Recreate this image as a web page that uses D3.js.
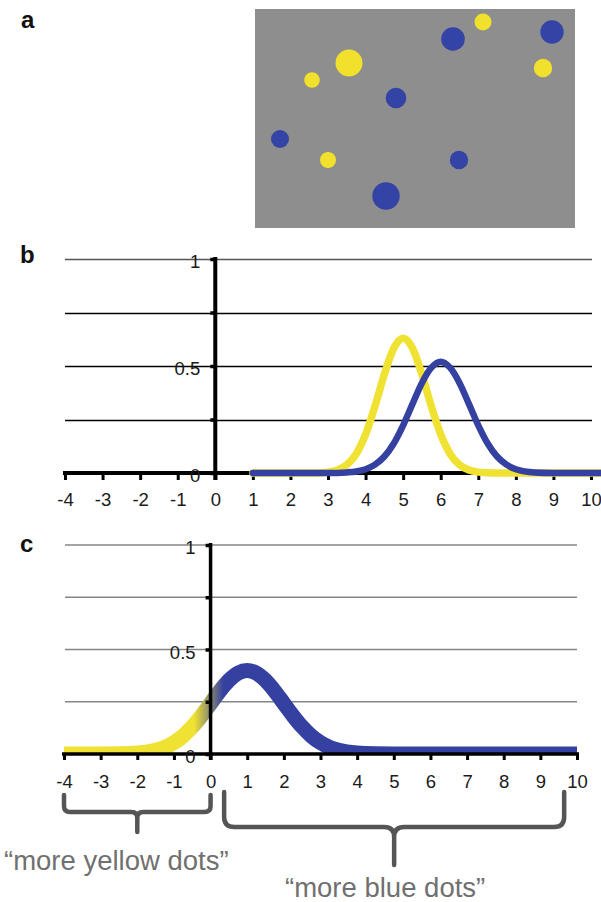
<!DOCTYPE html>
<html><head><meta charset="utf-8">
<script src="https://cdn.jsdelivr.net/npm/d3@7"></script>
<style>body{margin:0;background:#fff}svg{display:block}</style>
</head><body>
<script>
// ---------- Data ----------
// Panel a: stimulus dots (stimulus units, 320 x 219)
const dotX = [94, 57, 198, 228, 297, 288, 141, 25, 73, 204, 131];
const dotY = [54, 71, 30, 13, 23, 59, 89, 130, 151, 151, 187];
const dotR = [13.5, 7.8, 11.8, 8.5, 11.7, 9.2, 10.3, 9, 8, 9.2, 13.7];
const dotColor = ["yellow","yellow","blue","yellow","blue","yellow","blue","blue","yellow","blue","blue"];

// Axes ticks
const xTicks = [-4,-3,-2,-1,0,1,2,3,4,5,6,7,8,9,10];
const yTicks = [0, 0.25, 0.5, 0.75, 1];
const yTickLabels = ["0", "", "0.5", "", "1"];

// Panel b: yellow and blue distributions
const bX      = [1, 2, 2.5, 3, 3.25, 3.5, 3.75, 4, 4.25, 4.5, 4.75, 5, 5.25, 5.5, 5.75, 6, 6.25, 6.5, 6.75, 7, 7.25, 7.5, 7.75, 8, 8.5, 9, 10, 10.4];
const bYellow = [0, 0, 0, 0.004, 0.014, 0.038, 0.089, 0.18, 0.312, 0.461, 0.583, 0.63, 0.583, 0.461, 0.312, 0.18, 0.089, 0.038, 0.014, 0.004, 0.001, 0, 0, 0, 0, 0, 0, 0];
const bBlue   = [0, 0, 0, 0, 0.0003, 0.0026, 0.0071, 0.0175, 0.039, 0.077, 0.138, 0.223, 0.323, 0.421, 0.492, 0.52, 0.492, 0.421, 0.323, 0.223, 0.138, 0.077, 0.039, 0.0175, 0.0026, 0.0002, 0, 0];

// Panel c: difference distribution
const cX    = [-4, -3, -2.5, -2, -1.5, -1.25, -1, -0.75, -0.5, -0.25, 0, 0.25, 0.5, 0.75, 1, 1.25, 1.5, 1.75, 2, 2.25, 2.5, 2.75, 3, 3.25, 3.5, 4, 4.5, 5, 6, 7, 8, 9, 10];
const cDiff = [0, 0.0001, 0.0009, 0.0044, 0.0175, 0.0318, 0.054, 0.0863, 0.13, 0.183, 0.242, 0.301, 0.352, 0.387, 0.399, 0.387, 0.352, 0.301, 0.242, 0.183, 0.13, 0.0863, 0.054, 0.0318, 0.0175, 0.0044, 0.0009, 0.0001, 0, 0, 0, 0, 0];

// Braces under panel c
const braceRanges = [[-4, 0], [0.37, 9.65]];
const braceLabels = ["\u201Cmore yellow dots\u201D", "\u201Cmore blue dots\u201D"];
const panelLabels = ["a", "b", "c"];

// ---------- Drawing ----------
const W = 601, H = 902;
const FONT = "'Liberation Sans', Arial, Helvetica, sans-serif";
const YELLOW = "#efe233", BLUE = "#3541a1";
const svg = d3.select("body").append("svg").attr("width", W).attr("height", H);

// Panel labels
const labelPos = [[21, 28], [20, 263], [20, 552]];
svg.selectAll("text.plabel").data(panelLabels).join("text")
  .attr("class","plabel")
  .attr("x", (d,i) => labelPos[i][0]).attr("y", (d,i) => labelPos[i][1])
  .attr("font-family", FONT).attr("font-weight", "bold").attr("font-size", 24)
  .attr("fill", "#111").text(d => d);

// ---- Panel a ----
const sx = d3.scaleLinear().domain([0, 320]).range([255, 575]);
const sy = d3.scaleLinear().domain([0, 219]).range([9, 228]);
const sr = d3.scaleLinear().domain([0, 320]).range([0, 320]);
svg.append("rect").attr("x", sx(0)).attr("y", sy(0))
  .attr("width", sx(320) - sx(0)).attr("height", sy(219) - sy(0)).attr("fill", "#8e8e8e");
const dotColors = {yellow: "#f1e12c", blue: "#3343a6"};
svg.selectAll("circle.dot").data(dotX).join("circle")
  .attr("class","dot")
  .attr("cx", d => sx(d)).attr("cy", (d,i) => sy(dotY[i]))
  .attr("r", (d,i) => sr(dotR[i])).attr("fill", (d,i) => dotColors[dotColor[i]]);

// ---- Generic axis helper ----
function drawAxes(g, x, y, opts) {
  const ax = g.append("g").attr("transform", `translate(0,${y(0)})`)
    .call(d3.axisBottom(x).tickValues(xTicks).tickSize(opts.xTickLen).tickSizeOuter(0).tickFormat(d => String(d)));
  ax.attr("font-family", FONT).attr("font-size", 18.5);
  ax.select(".domain").attr("stroke", "#000").attr("stroke-width", opts.axW)
    .attr("d", `M${x(-4) - 2},0H${x(10) + 2}`);
  ax.selectAll(".tick line").attr("stroke", "#000").attr("stroke-width", 3);
  ax.selectAll(".tick text").attr("fill", "#1a1a1a").attr("y", opts.xLabelY).attr("dy", 0);

  const ay = g.append("g").attr("transform", `translate(${x(0)},0)`)
    .call(d3.axisLeft(y).tickValues(yTicks).tickSize(5).tickSizeOuter(0).tickFormat((d,i) => yTickLabels[i]));
  ay.attr("font-family", FONT).attr("font-size", 18.5);
  ay.select(".domain").attr("stroke", "#000").attr("stroke-width", opts.axW)
    .attr("d", `M0,${y(1) - 2}V${y(0) + opts.xTickLen}`);
  ay.selectAll(".tick line").attr("stroke", "#000").attr("stroke-width", 3.5);
  ay.selectAll(".tick text").attr("fill", "#1a1a1a").attr("x", -15).attr("dy", "0.47em");
}

// ---- Panel b ----
const xB = d3.scaleLinear().domain([-4, 10]).range([65, 591]);
const yB = d3.scaleLinear().domain([0, 1]).range([473, 259]);
const gB = svg.append("g");
gB.selectAll("line.grid").data(yTicks.filter(d => d > 0)).join("line")
  .attr("class","grid")
  .attr("x1", xB(-4)).attr("x2", xB(10) + 1)
  .attr("y1", d => Math.round(yB(d)) + 0.5).attr("y2", d => Math.round(yB(d)) + 0.5)
  .attr("stroke", d => d === 1 ? "#555" : "#000").attr("stroke-width", 1.3);
drawAxes(gB, xB, yB, {xTickLen: 7, axW: 4, xLabelY: 33});

const lineB = (vals) => d3.line().x((d,i) => xB(bX[i])).y(d => yB(d)).curve(d3.curveMonotoneX)(vals);
gB.append("path").attr("d", lineB(bYellow)).attr("fill", "none").attr("stroke", YELLOW)
  .attr("stroke-width", 7.5).attr("stroke-linecap", "round").attr("stroke-linejoin", "round");
gB.append("path").attr("d", lineB(bBlue)).attr("fill", "none").attr("stroke", BLUE)
  .attr("stroke-width", 6.5).attr("stroke-linecap", "round").attr("stroke-linejoin", "round");

// ---- Panel c ----
const xC = d3.scaleLinear().domain([-4, 10]).range([64, 577]);
const yC = d3.scaleLinear().domain([0, 1]).range([754, 545]);
const gC = svg.append("g");
gC.selectAll("line.grid").data(yTicks.filter(d => d > 0)).join("line")
  .attr("class","grid")
  .attr("x1", xC(-4) + 1).attr("x2", xC(10))
  .attr("y1", d => yC(d)).attr("y2", d => yC(d))
  .attr("stroke", "#858585").attr("stroke-width", 1.6);

const defs = svg.append("defs");
const grad = defs.append("linearGradient").attr("id", "diffGrad")
  .attr("gradientUnits", "userSpaceOnUse")
  .attr("x1", xC(-0.45)).attr("x2", xC(0.35)).attr("y1", 0).attr("y2", 0);
grad.append("stop").attr("offset", 0).attr("stop-color", YELLOW);
grad.append("stop").attr("offset", 1).attr("stop-color", BLUE);
defs.append("clipPath").attr("id", "clipC").append("rect")
  .attr("x", 0).attr("y", yC(1) - 20).attr("width", W).attr("height", yC(0) - yC(1) + 20);

const lineC = d3.line().x((d,i) => xC(cX[i])).y(d => yC(d)).curve(d3.curveMonotoneX);
gC.append("path").attr("d", lineC(cDiff)).attr("fill", "none")
  .attr("stroke", "url(#diffGrad)").attr("stroke-width", 15)
  .attr("stroke-linejoin", "round").attr("clip-path", "url(#clipC)");
drawAxes(gC, xC, yC, {xTickLen: 6, axW: 3.5, xLabelY: 34});

// ---- Braces ----
const braceTop = [795, 792], braceMid = [812, 827], braceBottom = [832, 865], braceRad = [6, 10];
braceRanges.forEach((r, i) => {
  const l = xC(r[0]), rt = xC(r[1]), m = (l + rt) / 2;
  const t = braceTop[i], h = braceMid[i], b = braceBottom[i], rr = braceRad[i];
  const p = d3.path();
  p.moveTo(l, t); p.lineTo(l, h - rr); p.quadraticCurveTo(l, h, l + rr, h);
  p.lineTo(m - rr, h); p.quadraticCurveTo(m, h, m, h + rr); p.lineTo(m, b);
  p.moveTo(rt, t); p.lineTo(rt, h - rr); p.quadraticCurveTo(rt, h, rt - rr, h);
  p.lineTo(m + rr, h); p.quadraticCurveTo(m, h, m, h + rr);
  svg.append("path").attr("d", p.toString()).attr("fill", "none")
    .attr("stroke", "#555").attr("stroke-width", 4.5).attr("stroke-linecap", "round");
});
const braceTextPos = [[4, 870], [285, 897]];
svg.selectAll("text.blabel").data(braceLabels).join("text")
  .attr("class","blabel")
  .attr("x", (d,i) => braceTextPos[i][0]).attr("y", (d,i) => braceTextPos[i][1])
  .attr("font-family", FONT).attr("font-size", 27.5).attr("fill", "#707070").text(d => d);
</script>
</body></html>
